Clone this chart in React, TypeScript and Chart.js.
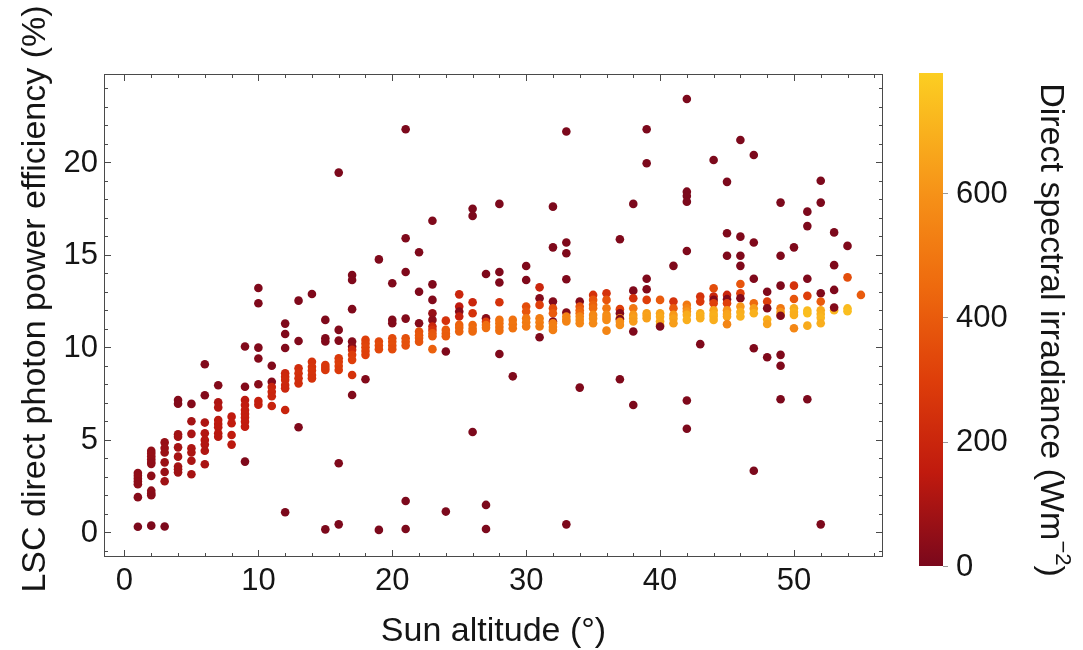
import { useEffect, useRef } from "react";
import { Chart, registerables } from "chart.js";

Chart.register(...registerables);

// Sun altitude categories (degrees)
const altitudes = [
  1, 2, 3, 4, 5, 6, 7, 8, 9, 10, 11, 12, 13, 14, 15, 16, 17, 18, 19, 20, 21, 22, 23, 24, 25, 26, 27,
  28, 29, 30, 31, 32, 33, 34, 35, 36, 37, 38, 39, 40, 41, 42, 43, 44, 45, 46, 47, 48, 49, 50, 51,
  52, 53, 54, 55,
];

// LSC direct photon power efficiency (%) for each altitude
const efficiencyByAltitude: number[][] = [
  [3.2, 3.05, 2.9, 2.75, 2.6, 1.9, 0.3],
  [4.4, 4.25, 4.1, 3.95, 3.8, 3.7, 3.05, 2.25, 2.1, 2.0, 0.36],
  [4.86, 4.55, 4.31, 3.78, 3.26, 2.76, 0.31],
  [7.15, 6.95, 5.3, 5.17, 4.59, 4.09, 3.55, 3.41, 3.24],
  [6.94, 6.0, 5.32, 4.54, 4.31, 3.87, 3.14],
  [9.08, 7.41, 5.93, 5.35, 4.99, 4.74, 4.41, 3.68],
  [7.95, 7.03, 6.75, 6.07, 5.86, 5.68, 5.35, 5.17],
  [6.25, 5.89, 5.26, 4.74],
  [10.04, 7.87, 7.15, 6.88, 6.61, 6.4, 6.2, 5.98, 5.71, 3.82],
  [13.2, 12.38, 9.98, 9.39, 8.0, 7.1, 6.9],
  [9.0, 8.14, 7.85, 7.6, 7.35, 6.83],
  [11.28, 10.72, 9.96, 8.59, 8.41, 8.23, 7.96, 7.78, 6.61, 1.08],
  [12.52, 10.34, 8.86, 8.6, 8.32, 8.05, 5.68],
  [12.88, 9.22, 8.95, 8.74, 8.5, 8.32],
  [11.48, 10.49, 10.31, 9.04, 8.9, 8.77, 0.16],
  [19.44, 10.94, 10.36, 9.41, 9.22, 8.99, 8.77, 3.73, 0.43],
  [13.9, 13.64, 12.06, 10.31, 10.04, 9.86, 9.59, 9.32, 8.5, 7.42],
  [10.4, 10.2, 10.0, 9.8, 9.59, 8.27],
  [14.75, 10.31, 10.1, 9.9, 0.13],
  [13.46, 11.48, 11.3, 10.49, 10.3, 10.1, 9.9],
  [21.78, 15.89, 14.07, 11.55, 10.49, 10.3, 10.1, 1.69, 0.18],
  [15.14, 13.0, 11.3, 10.85, 10.65, 10.5, 10.3],
  [16.84, 13.4, 12.56, 11.84, 11.48, 11.12, 10.94, 10.75, 10.6, 9.9],
  [11.44, 10.94, 10.75, 10.6, 9.77, 1.12],
  [12.86, 12.2, 11.93, 11.66, 11.21, 11.05, 10.85],
  [17.49, 17.1, 12.43, 11.84, 11.2, 11.0, 10.85, 5.42],
  [13.96, 11.57, 11.38, 11.2, 11.05, 1.48, 0.18],
  [17.75, 14.07, 13.5, 12.43, 11.48, 11.3, 11.1, 10.9, 9.64],
  [11.48, 11.25, 11.03, 8.43],
  [14.39, 13.64, 12.2, 11.93, 11.57, 11.35, 11.12],
  [13.24, 12.65, 12.29, 11.57, 11.35, 11.12, 10.54],
  [17.6, 15.4, 12.47, 12.11, 11.84, 11.39, 11.3, 11.1, 10.94],
  [21.66, 15.66, 15.08, 13.68, 11.88, 11.66, 11.5, 11.39, 0.43],
  [12.47, 12.2, 12.0, 11.84, 11.66, 11.48, 11.3, 7.82],
  [12.83, 12.56, 12.3, 12.11, 11.75, 11.55, 11.3],
  [12.92, 12.56, 12.11, 11.75, 11.6, 11.48, 10.9],
  [15.84, 12.06, 11.84, 11.57, 11.52, 11.38, 11.2, 8.27],
  [17.75, 13.06, 12.65, 12.11, 11.75, 11.57, 11.39, 10.85, 6.88],
  [21.78, 19.95, 13.7, 13.14, 12.56, 11.84, 11.7, 11.57],
  [12.56, 11.84, 11.65, 11.4, 11.2, 11.12],
  [14.4, 12.47, 12.11, 11.75, 11.55, 11.3],
  [23.42, 18.41, 18.18, 17.87, 15.2, 12.29, 12.1, 11.93, 11.75, 11.48, 7.12, 5.6],
  [12.74, 12.47, 11.84, 11.7, 11.57, 10.17],
  [20.12, 13.19, 12.74, 12.56, 12.38, 12.0, 11.8, 11.66, 11.48],
  [18.94, 16.16, 14.95, 12.83, 12.6, 12.38, 12.0, 11.8, 11.66, 11.25],
  [21.2, 15.98, 14.95, 14.4, 13.42, 12.92, 12.65, 12.2, 11.9, 11.66],
  [20.39, 15.66, 13.7, 12.38, 12.1, 11.84, 9.95, 3.33],
  [13.0, 12.47, 12.11, 11.5, 11.26, 9.46],
  [17.82, 14.95, 13.33, 12.11, 11.9, 11.75, 11.7, 9.59, 9.0, 7.19],
  [15.4, 13.33, 12.61, 12.11, 11.9, 11.75, 11.03],
  [17.33, 16.55, 13.7, 12.78, 11.98, 11.84, 11.17, 7.19],
  [19.0, 17.82, 12.92, 12.47, 12.0, 11.8, 11.6, 11.3, 0.43],
  [16.21, 14.44, 13.1, 12.0, 12.15],
  [15.48, 13.78, 12.1, 11.95],
  [12.83],
];

// Direct spectral irradiance (W m^-2) for each point, same layout
const irradianceByAltitude: number[][] = [
  [40, 45, 50, 45, 40, 25, 5],
  [50, 55, 60, 55, 50, 45, 40, 35, 40, 30, 5],
  [60, 65, 70, 70, 65, 80, 5],
  [20, 20, 80, 85, 90, 95, 90, 85, 80],
  [20, 90, 100, 110, 105, 100, 95],
  [15, 20, 110, 120, 125, 120, 115, 100],
  [20, 110, 120, 140, 145, 140, 135, 130],
  [150, 155, 150, 140],
  [15, 20, 140, 150, 160, 165, 165, 160, 155, 10],
  [10, 10, 15, 20, 30, 170, 165],
  [15, 20, 190, 200, 195, 185],
  [10, 10, 15, 200, 210, 215, 210, 205, 190, 5],
  [10, 15, 230, 240, 235, 230, 10],
  [10, 250, 255, 260, 255, 250],
  [10, 15, 15, 270, 275, 270, 5],
  [5, 15, 20, 280, 290, 295, 285, 10, 5],
  [10, 10, 10, 20, 30, 200, 290, 300, 250, 15],
  [300, 310, 320, 315, 305, 20],
  [10, 330, 340, 335, 5],
  [10, 15, 20, 340, 350, 355, 345],
  [5, 10, 10, 20, 360, 370, 365, 5, 5],
  [10, 10, 20, 370, 380, 385, 375],
  [10, 10, 15, 60, 40, 200, 250, 380, 390, 420],
  [250, 400, 410, 405, 10, 5],
  [200, 150, 30, 180, 420, 430, 425],
  [5, 5, 200, 250, 440, 450, 445, 5],
  [10, 30, 300, 460, 465, 5, 5],
  [5, 10, 10, 250, 470, 480, 475, 470, 10],
  [480, 490, 485, 10],
  [10, 10, 350, 380, 500, 510, 505],
  [200, 20, 300, 510, 520, 515, 10],
  [5, 10, 20, 350, 400, 20, 520, 530, 525],
  [5, 10, 10, 10, 20, 540, 550, 545, 5],
  [20, 380, 420, 450, 550, 560, 555, 10],
  [250, 380, 420, 450, 560, 570, 565],
  [250, 380, 500, 570, 580, 575, 550],
  [10, 300, 20, 580, 20, 590, 585, 10],
  [5, 10, 250, 500, 620, 640, 630, 10, 5],
  [5, 5, 10, 20, 300, 640, 650, 645],
  [400, 650, 670, 665, 660, 10],
  [10, 250, 400, 620, 650, 640],
  [5, 5, 5, 5, 10, 500, 550, 600, 680, 690, 10, 5],
  [250, 280, 680, 700, 690, 10],
  [5, 350, 200, 20, 300, 660, 690, 700, 690],
  [5, 10, 10, 200, 20, 300, 600, 650, 660, 550],
  [5, 10, 10, 10, 380, 300, 20, 620, 690, 700],
  [5, 10, 10, 450, 640, 700, 10, 5],
  [10, 300, 20, 700, 650, 10],
  [5, 10, 10, 500, 600, 650, 20, 10, 10, 5],
  [10, 250, 380, 680, 700, 690, 560],
  [5, 5, 10, 300, 730, 740, 680, 5],
  [5, 5, 10, 400, 680, 700, 720, 690, 5],
  [5, 10, 10, 720, 20],
  [10, 350, 730, 740],
  [400],
];

const xTickValues = [0, 10, 20, 30, 40, 50];
const yTickValues = [0, 5, 10, 15, 20];
const colorTickValues = [0, 200, 400, 600];
const colorMax = 793;

// colour map stops (value, rgb)
const colorStopValues = [0, 150, 300, 450, 600, 793];
const colorStopRGB: number[][] = [
  [122, 8, 28],
  [192, 26, 14],
  [222, 62, 10],
  [238, 106, 14],
  [246, 146, 24],
  [252, 206, 34],
];

const FONT = '"Liberation Sans", Arial, sans-serif';
const TICK_FONT = 31;
const TITLE_FONT = 34;

function colorFor(v: number): string {
  const n = colorStopValues.length;
  if (v <= colorStopValues[0]) return `rgb(${colorStopRGB[0].join(",")})`;
  for (let i = 1; i < n; i++) {
    if (v <= colorStopValues[i]) {
      const t = (v - colorStopValues[i - 1]) / (colorStopValues[i] - colorStopValues[i - 1]);
      const a = colorStopRGB[i - 1];
      const b = colorStopRGB[i];
      const c = a.map((av, k) => Math.round(av + (b[k] - av) * t));
      return `rgb(${c.join(",")})`;
    }
  }
  return `rgb(${colorStopRGB[n - 1].join(",")})`;
}

export default function App() {
  const ref = useRef<HTMLCanvasElement | null>(null);

  useEffect(() => {
    if (!ref.current) return;
    const points: { x: number; y: number }[] = [];
    const colors: string[] = [];
    altitudes.forEach((alt, i) => {
      efficiencyByAltitude[i].forEach((eff, j) => {
        points.push({ x: alt, y: eff });
        colors.push(colorFor(irradianceByAltitude[i][j]));
      });
    });

    const decor = {
      id: "decor",
      afterDraw(chart: any) {
        const ctx: CanvasRenderingContext2D = chart.ctx;
        const xs = chart.scales.x;
        const ys = chart.scales.y;
        const { left, right, top, bottom } = chart.chartArea;
        ctx.save();
        // frame
        ctx.strokeStyle = "#4a4a4a";
        ctx.lineWidth = 1;
        ctx.strokeRect(left + 0.5, top + 0.5, right - left - 1, bottom - top - 1);
        // ticks
        const major = 7;
        const minor = 4;
        ctx.beginPath();
        for (let v = 0; v <= xs.max; v += 2) {
          const p = Math.round(xs.getPixelForValue(v)) + 0.5;
          const len = v % 10 === 0 ? major : minor;
          ctx.moveTo(p, bottom);
          ctx.lineTo(p, bottom - len);
          ctx.moveTo(p, top);
          ctx.lineTo(p, top + len);
        }
        for (let v = Math.ceil(ys.min); v <= ys.max; v += 1) {
          const p = Math.round(ys.getPixelForValue(v)) + 0.5;
          const len = v % 5 === 0 ? major : minor;
          ctx.moveTo(left, p);
          ctx.lineTo(left + len, p);
          ctx.moveTo(right, p);
          ctx.lineTo(right - len, p);
        }
        ctx.stroke();

        // tick labels
        ctx.fillStyle = "#151515";
        ctx.font = `${TICK_FONT}px ${FONT}`;
        ctx.textAlign = "center";
        ctx.textBaseline = "middle";
        xTickValues.forEach((v) => {
          ctx.fillText(String(v), xs.getPixelForValue(v), bottom + 24);
        });
        ctx.textAlign = "right";
        yTickValues.forEach((v) => {
          ctx.fillText(String(v), left - 6, ys.getPixelForValue(v) + 1);
        });

        // axis titles
        ctx.font = `${TITLE_FONT}px ${FONT}`;
        ctx.textAlign = "center";
        ctx.fillText("Sun altitude (°)", (left + right) / 2, 632);
        ctx.save();
        ctx.translate(36, 299);
        ctx.rotate(-Math.PI / 2);
        ctx.fillText("LSC direct photon power efficiency (%)", 0, 0);
        ctx.restore();

        // colour bar
        const cbLeft = 919;
        const cbRight = 943;
        const cbTop = 73;
        const cbBottom = 566;
        const cbPix = (v: number) => cbBottom - (v / colorMax) * (cbBottom - cbTop);
        const grad = ctx.createLinearGradient(0, cbBottom, 0, cbTop);
        colorStopValues.forEach((v, i) => {
          grad.addColorStop(Math.min(1, v / colorMax), `rgb(${colorStopRGB[i].join(",")})`);
        });
        ctx.fillStyle = grad;
        ctx.fillRect(cbLeft, cbTop, cbRight - cbLeft, cbBottom - cbTop);
        ctx.strokeStyle = "#999";
        ctx.beginPath();
        colorTickValues.forEach((v) => {
          const p = Math.round(cbPix(v)) + 0.5;
          ctx.moveTo(cbRight, p);
          ctx.lineTo(cbRight + 5, p);
        });
        ctx.stroke();
        ctx.fillStyle = "#151515";
        ctx.font = `${TICK_FONT}px ${FONT}`;
        ctx.textAlign = "left";
        colorTickValues.forEach((v) => {
          ctx.fillText(String(v), 956, cbPix(v) + 1);
        });

        // colour bar title (rotated clockwise)
        ctx.save();
        ctx.translate(1050, 330);
        ctx.rotate(Math.PI / 2);
        ctx.font = `${TITLE_FONT}px ${FONT}`;
        const main = "Direct spectral irradiance (Wm";
        const sup = "−2";
        const close = ")";
        const wMain = ctx.measureText(main).width;
        const wClose = ctx.measureText(close).width;
        ctx.font = `22px ${FONT}`;
        const wSup = ctx.measureText(sup).width;
        const total = wMain + wSup + wClose;
        let x0 = -total / 2;
        ctx.textAlign = "left";
        ctx.font = `${TITLE_FONT}px ${FONT}`;
        ctx.fillText(main, x0, 0);
        x0 += wMain;
        ctx.font = `22px ${FONT}`;
        ctx.fillText(sup, x0, -12);
        x0 += wSup;
        ctx.font = `${TITLE_FONT}px ${FONT}`;
        ctx.fillText(close, x0, 0);
        ctx.restore();

        ctx.restore();
      },
    };

    const chart = new Chart(ref.current, {
      type: "scatter",
      data: {
        datasets: [
          {
            data: points,
            pointBackgroundColor: colors,
            pointBorderWidth: 0,
            pointRadius: 4.3,
            pointHoverRadius: 4.3,
          },
        ],
      },
      options: {
        responsive: false,
        animation: false,
        layout: { padding: { left: 104, top: 74, right: 200, bottom: 93 } },
        plugins: { legend: { display: false }, tooltip: { enabled: false } },
        scales: {
          x: { type: "linear", min: -1.53, max: 56.65, display: false },
          y: { type: "linear", min: -1.335, max: 24.77, display: false },
        },
      },
      plugins: [decor],
    });
    return () => chart.destroy();
  }, []);

  return (
    <canvas
      ref={ref}
      width={1083}
      height={650}
      style={{ position: "fixed", left: 0, top: 0, width: 1083, height: 650, background: "#fff" }}
    />
  );
}
